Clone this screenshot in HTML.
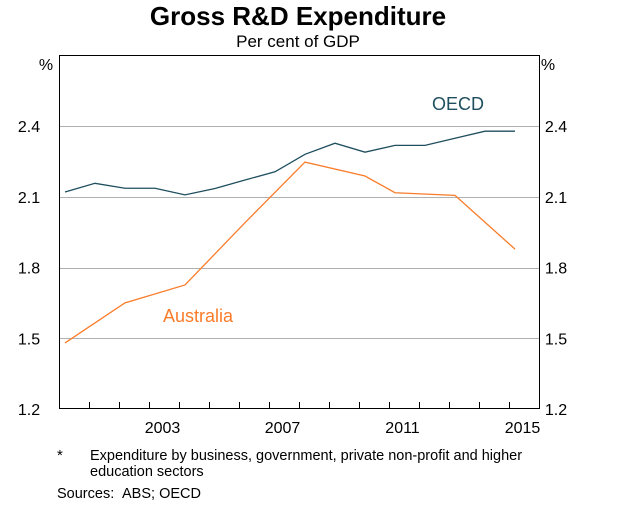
<!DOCTYPE html>
<html><head><meta charset="utf-8"><style>
body{margin:0;background:#fff;font-family:"Liberation Sans",sans-serif;}
</style></head><body>
<svg width="619" height="505" xmlns="http://www.w3.org/2000/svg" font-family="Liberation Sans, sans-serif">
<text x="298" y="25" text-anchor="middle" font-size="26" font-weight="bold">Gross R&amp;D Expenditure</text>
<text x="298" y="47" text-anchor="middle" font-size="17">Per cent of GDP</text>
<g id="grid"></g>
<rect x="59.5" y="55.5" width="480" height="353" fill="none" stroke="#000" stroke-width="1"/>
<g id="ticks"></g>
<g id="series"></g>
<text x="46" y="70" text-anchor="middle" font-size="16">%</text>
<text x="548" y="70" text-anchor="middle" font-size="16">%</text>
<text x="458" y="110" text-anchor="middle" font-size="18" fill="#1f4e5f">OECD</text>
<text x="198" y="322" text-anchor="middle" font-size="18" fill="#f97c2a">Australia</text>
<text x="57" y="460" font-size="15">*</text>
<text x="90" y="460" font-size="14.5">Expenditure by business, government, private non-profit and higher</text>
<text x="90" y="476" font-size="14.5">education sectors</text>
<text x="57" y="498" font-size="14.5">Sources:</text>
<text x="122" y="498" font-size="14.5">ABS; OECD</text>
</svg>
<script>
const yTicks=[1.2,1.5,1.8,2.1,2.4];
const xLabels=[2003,2007,2011,2015];
const oecdYears=[2000,2001,2002,2003,2004,2005,2006,2007,2008,2009,2010,2011,2012,2013,2014,2015];
const oecdValues=[2.12,2.157,2.136,2.136,2.108,2.135,2.171,2.206,2.28,2.327,2.289,2.318,2.318,2.348,2.378,2.378];
const ausYears=[2000,2002,2004,2006,2008,2010,2011,2013,2015];
const ausValues=[1.48,1.65,1.726,1.99,2.247,2.188,2.117,2.106,1.878];
const NS="http://www.w3.org/2000/svg";
const x=yr=>65+30*(yr-2000);
const y=v=>409-(v-1.2)/0.3*70.75;
const grid=document.getElementById('grid'),ticks=document.getElementById('ticks'),series=document.getElementById('series');
function mk(tag,attrs,parent){const e=document.createElementNS(NS,tag);for(const k in attrs)e.setAttribute(k,attrs[k]);parent.appendChild(e);return e;}
yTicks.forEach(v=>{
  const yy=Math.round(y(v))+0.5;
  if(v>1.2){const g=mk('line',{x1:60,x2:539,y1:yy,y2:yy,stroke:'#b0b0b0'},grid);
  
  }
  const l=mk('text',{x:29,y:y(v)+6,'text-anchor':'middle','font-size':16},ticks);l.textContent=v.toFixed(1);
  
  
  const r=mk('text',{x:556,y:y(v)+6,'text-anchor':'middle','font-size':16},ticks);r.textContent=v.toFixed(1);
  
  
});
for(let k=1;k<16;k++){const xx=59.5+30*k;const t=mk('line',{x1:xx,x2:xx,y1:402,y2:409,stroke:'#000'},ticks);
  
  }
xLabels.forEach(yr=>{const t=mk('text',{x:72.5+30*(yr-2000),y:433,'text-anchor':'middle','font-size':16},ticks);t.textContent=yr;
  
  });
function line(xs,vs,color,name){
  const p=mk('polyline',{points:xs.map((yr,i)=>x(yr)+','+y(vs[i])).join(' '),fill:'none',stroke:color,'stroke-width':1.3},series);
  
  
}
line(oecdYears,oecdValues,'#1f4e5f','oecd-line');
line(ausYears,ausValues,'#f97c2a','australia-line');
</script>
</body></html>
